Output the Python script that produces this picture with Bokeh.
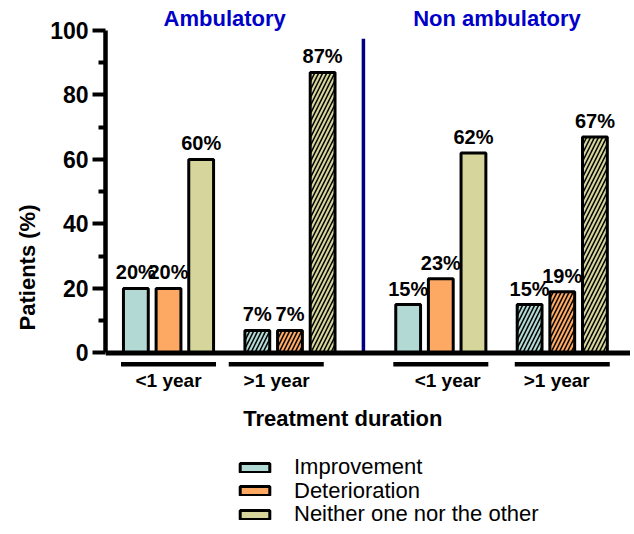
from bokeh.plotting import figure
from bokeh.models import (ColumnDataSource, Range1d, FixedTicker, Span, Legend, LegendItem)
from bokeh.core.properties import value
from bokeh.embed import file_html
from bokeh.resources import INLINE

# ---------------- data ----------------
clusters = ["Ambulatory", "Non ambulatory"]
durations = ["<1 year", ">1 year"]
outcomes = ["Improvement", "Deterioration", "Neither one nor the other"]
# values per (cluster, duration): [amb <1, amb >1, non <1, non >1]
improvement = [20, 7, 15, 15]
deterioration = [20, 7, 23, 19]
neither = [60, 87, 62, 67]
y_ticks = [0, 20, 40, 60, 80, 100]
y_minor_ticks = [10, 30, 50, 70, 90]
x_title = "Treatment duration"
y_title = "Patients (%)"

series = [improvement, deterioration, neither]
colors = ["#B2D9D4", "#FDA964", "#D6D69C"]

# ---------------- layout (in bar-step units) ----------------
FONT = "Liberation Sans"
cluster_centers = [3.79, 12.13]
half_gap = 1.86
bar_w = 0.76
label_shift = [0.0, -0.41, 0.21, -0.17]
line_shift = [0.0, -0.42, 0.0, 0.0]
line_half = 1.455

def group_x(c, d):
    return cluster_centers[c] + (d - 0.5) * 2 * half_gap

p = figure(width=630, height=534, output_backend="svg", toolbar_location=None,
           x_range=Range1d(0, 16.08), y_range=Range1d(-56.3, 109.3),
           x_axis_location=None, min_border_left=105, min_border_right=0,
           min_border_top=0, min_border_bottom=0)
p.outline_line_color = None
p.xgrid.visible = False
p.ygrid.visible = False
p.background_fill_color = "white"

# y axis
ax = p.yaxis[0]
ax.ticker = FixedTicker(ticks=y_ticks, minor_ticks=y_minor_ticks)
ax.bounds = (0, 100)
ax.axis_line_width = 4.5
ax.axis_line_color = "black"
ax.major_tick_line_width = 4
ax.major_tick_line_color = "black"
ax.minor_tick_line_width = 4
ax.minor_tick_line_color = "black"
ax.major_tick_in = 0
ax.major_tick_out = 13
ax.minor_tick_in = 0
ax.minor_tick_out = 7
ax.major_label_standoff = 4
ax.major_label_text_font = FONT
ax.major_label_text_font_size = "23px"
ax.major_label_text_font_style = "bold"
ax.major_label_text_color = "black"
ax.axis_label = y_title
ax.axis_label_text_font = FONT
ax.axis_label_text_font_size = "22px"
ax.axis_label_text_font_style = "bold"
ax.axis_label_text_color = "black"
ax.axis_label_standoff = 7

# bars
legend_renderers = []
for k, vals in enumerate(series):
    for d in range(2):
        xs = [group_x(c, d) + (k - 1) for c in range(2)]
        tops = [vals[2 * c + d] for c in range(2)]
        src = ColumnDataSource(dict(x=xs, top=tops, lab=[f"{t}%" for t in tops]))
        kw = {}
        if d == 1:
            kw = dict(hatch_pattern="/", hatch_color="black", hatch_weight=1.5, hatch_scale=8)
        r = p.vbar(x="x", top="top", bottom=0, width=bar_w, source=src,
                   fill_color=colors[k], line_color="black", line_width=3, **kw)
        if d == 0:
            legend_renderers.append(r)
        p.text(x="x", y="top", text="lab", source=src, y_offset=-16,
               text_align="center", text_baseline="alphabetic",
               text_font=value(FONT), text_font_size="20px", text_font_style="bold",
               text_color="black")

# x axis line
p.add_layout(Span(location=0, dimension="width", line_color="black", line_width=5))

# divider between clusters
div_x = (group_x(0, 1) + group_x(1, 0)) / 2 - 0.06
p.segment(x0=[div_x], y0=[0], x1=[div_x], y1=[97.4], line_color="#00007F", line_width=3.5)

# cluster titles
p.text(x=[cc - 0.14 for cc in cluster_centers], y=[103.6] * 2, text=clusters,
       text_align="center", text_baseline="alphabetic", text_font=value(FONT),
       text_font_size="22px", text_font_style="bold", text_color="#0000C8")

# group underlines and labels
gx, gl, ux0, ux1 = [], [], [], []
for c in range(2):
    for d in range(2):
        g = 2 * c + d
        base = group_x(c, d)
        gx.append(base + label_shift[g])
        gl.append(durations[d])
        ux0.append(base + line_shift[g] - line_half)
        ux1.append(base + line_shift[g] + line_half)
p.segment(x0=ux0, y0=[-3.5] * 4, x1=ux1, y1=[-3.5] * 4, line_color="black", line_width=4.3)
p.text(x=gx, y=[-8.6] * 4, text=gl, text_align="center", text_baseline="alphabetic",
       text_font=value(FONT), text_font_size="19px", text_font_style="bold", text_color="black")

# x axis title
p.text(x=[7.27], y=[-20.4], text=[x_title], text_align="center", text_baseline="alphabetic",
       text_font=value(FONT), text_font_size="22px", text_font_style="bold", text_color="black")

# legend: one entry per row, rows 23.4 px apart
row_gap = 23.4
for k in range(3):
    lg = Legend(items=[LegendItem(label=outcomes[k], renderers=[legend_renderers[k]])],
                location=(131, 7 + (2 - k) * row_gap), orientation="vertical",
                glyph_width=37, glyph_height=11, label_standoff=21, spacing=0,
                padding=0, margin=0, border_line_color=None, background_fill_alpha=0,
                label_text_font=FONT, label_text_font_size="22px", label_text_color="black",
                label_height=23)
    p.add_layout(lg)

open("out.html", "w").write(file_html(p, INLINE))
